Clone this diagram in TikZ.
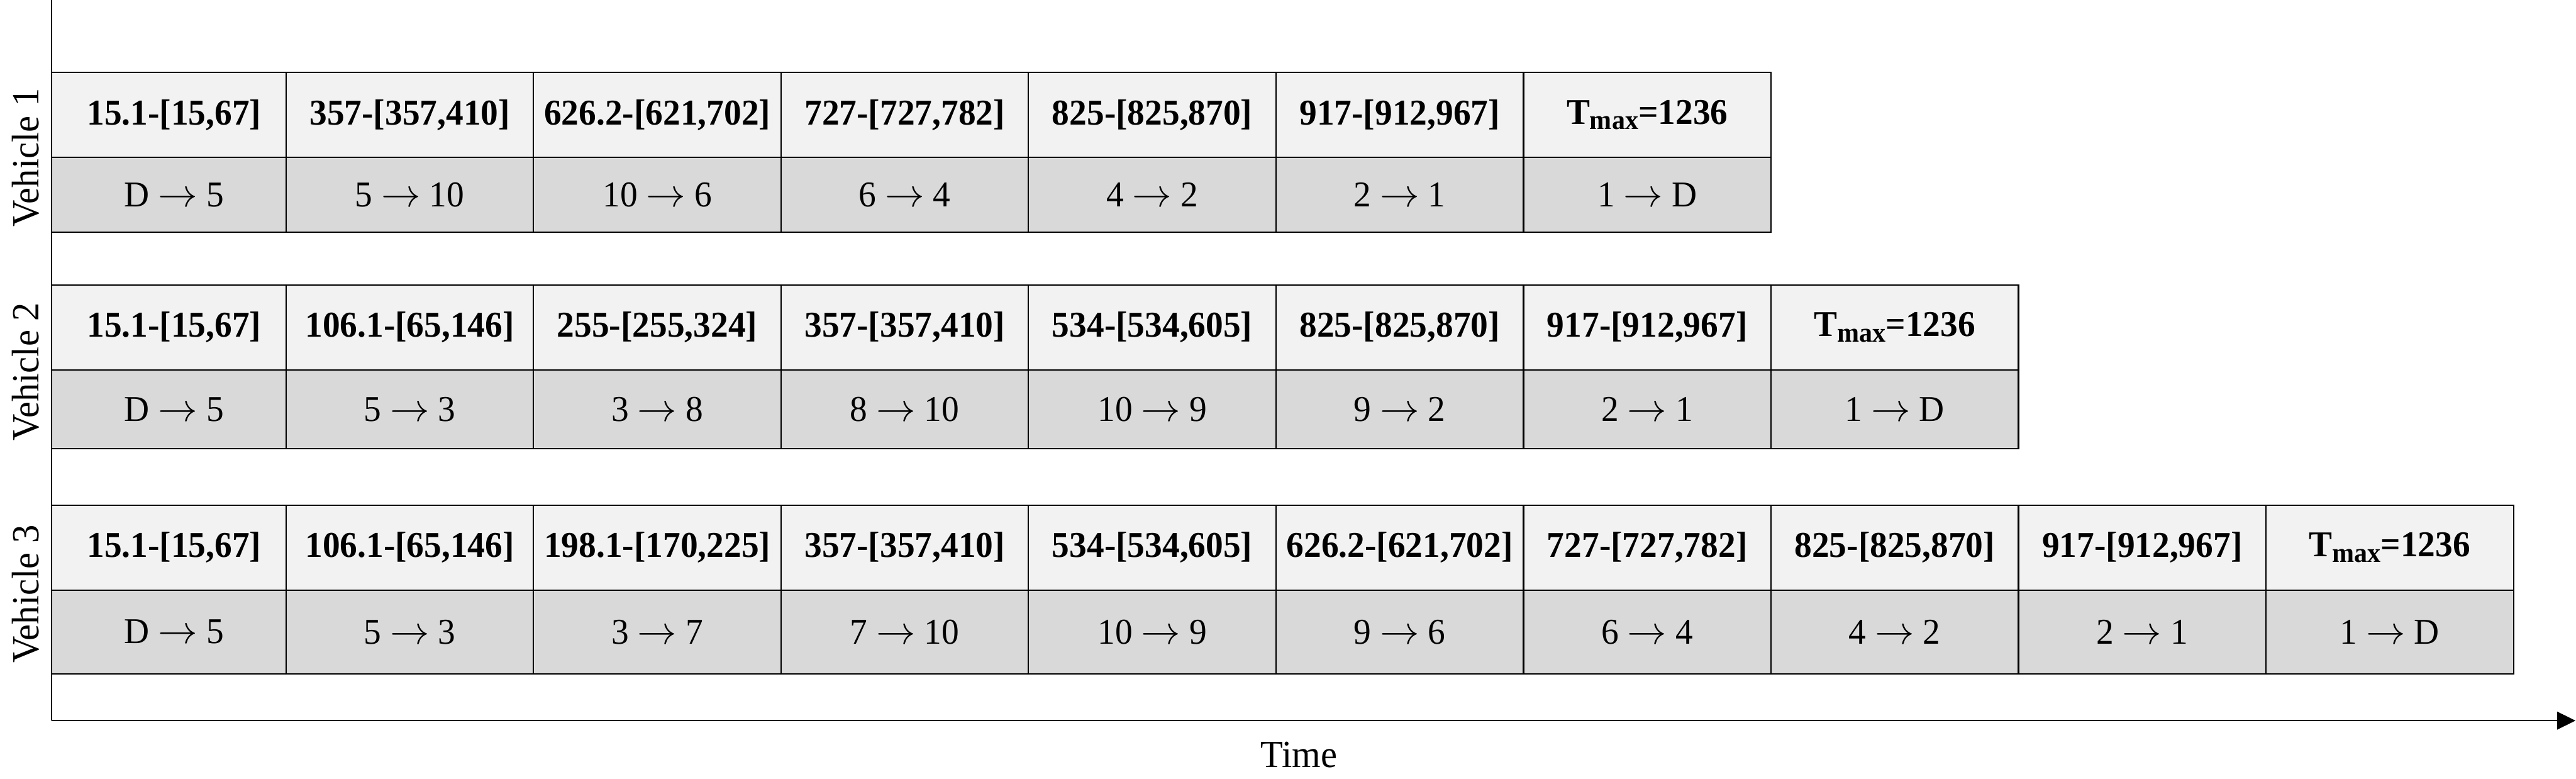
\documentclass[tikz,border=0pt]{standalone}
\usepackage{fontspec}
\setmainfont{Liberation Serif}[FakeStretch=0.96]
\usepackage{tikz}
\usetikzlibrary{arrows.meta,positioning}
\definecolor{CellTop}{RGB}{242,242,242}
\definecolor{CellBot}{RGB}{217,217,217}
\newcommand{\Tmax}{T\raisebox{-0.15em}{\fontsize{14.5pt}{15pt}\selectfont max}}
\newcommand{\go}{\ $\rightarrow$\ }

\begin{document}
\begin{tikzpicture}[
  >={Triangle[length=3.4mm,width=3.3mm]},
  every node/.style={inner sep=0pt, outer sep=0pt},
  upcell/.style={draw, line width=0.7pt, fill=CellTop, minimum width=4.577cm,
    minimum height=1.565cm, font=\fontsize{19.1pt}{22pt}\selectfont\bfseries},
  lowcell/.style={draw, line width=0.7pt, fill=CellBot, minimum width=4.577cm,
    font=\fontsize{19.1pt}{22pt}\selectfont},
  firstcell/.style={minimum width=4.34cm, execute at begin node=\hspace*{0.2cm}},
  vlabel/.style={rotate=90, font=\fontsize{20.2pt}{24pt}\selectfont}
]
  \useasboundingbox (0,0) rectangle (47.64,14.39);

  \coordinate (ytop)   at (0.95,14.39);
  \coordinate (origin) at (0.95,1.07);
  \coordinate (xend)   at (47.63,1.07);

  % Axes
  \draw[line width=0.7pt] (ytop) -- (origin);
  \draw[->, line width=0.7pt] (origin) -- (xend);
  \node[anchor=base, font=\fontsize{20.2pt}{24pt}\selectfont] (time) at (24.02,0.21) {Time};

  % Vehicle 1
  \node[upcell, firstcell, anchor=north west] (v1u1) at (0.95,13.05) {15.1-[15,67]};
  \node[lowcell, firstcell, minimum height=1.39cm, below=0pt of v1u1] (v1l1) {D\go5};
  \foreach \up/\low [count=\i from 2, remember=\i as \j (initially 1)] in
    {{357-[357,410]}/{5\go10}, {626.2-[621,702]}/{10\go6}, {727-[727,782]}/{6\go4},
     {825-[825,870]}/{4\go2}, {917-[912,967]}/{2\go1}, {\Tmax=1236}/{1\go D}}{
    \node[upcell, right=0pt of v1u\j] (v1u\i) {\up};
    \node[lowcell, minimum height=1.39cm, below=0pt of v1u\i] (v1l\i) {\low};
  }
  \node[vlabel] (veh1) at (0.48,11.48) {Vehicle 1};

  % Vehicle 2
  \node[upcell, firstcell, anchor=north west] (v2u1) at (0.95,9.12) {15.1-[15,67]};
  \node[lowcell, firstcell, minimum height=1.46cm, below=0pt of v2u1] (v2l1) {D\go5};
  \foreach \up/\low [count=\i from 2, remember=\i as \j (initially 1)] in
    {{106.1-[65,146]}/{5\go3}, {255-[255,324]}/{3\go8}, {357-[357,410]}/{8\go10},
     {534-[534,605]}/{10\go9}, {825-[825,870]}/{9\go2}, {917-[912,967]}/{2\go1},
     {\Tmax=1236}/{1\go D}}{
    \node[upcell, right=0pt of v2u\j] (v2u\i) {\up};
    \node[lowcell, minimum height=1.46cm, below=0pt of v2u\i] (v2l\i) {\low};
  }
  \node[vlabel] (veh2) at (0.48,7.52) {Vehicle 2};

  % Vehicle 3
  \node[upcell, firstcell, anchor=north west] (v3u1) at (0.95,5.05) {15.1-[15,67]};
  \node[lowcell, firstcell, minimum height=1.55cm, below=0pt of v3u1] (v3l1) {D\go5};
  \foreach \up/\low [count=\i from 2, remember=\i as \j (initially 1)] in
    {{106.1-[65,146]}/{5\go3}, {198.1-[170,225]}/{3\go7}, {357-[357,410]}/{7\go10},
     {534-[534,605]}/{10\go9}, {626.2-[621,702]}/{9\go6}, {727-[727,782]}/{6\go4},
     {825-[825,870]}/{4\go2}, {917-[912,967]}/{2\go1}, {\Tmax=1236}/{1\go D}}{
    \node[upcell, right=0pt of v3u\j] (v3u\i) {\up};
    \node[lowcell, minimum height=1.55cm, below=0pt of v3u\i] (v3l\i) {\low};
  }
  \node[vlabel] (veh3) at (0.48,3.41) {Vehicle 3};
\end{tikzpicture}
\end{document}
